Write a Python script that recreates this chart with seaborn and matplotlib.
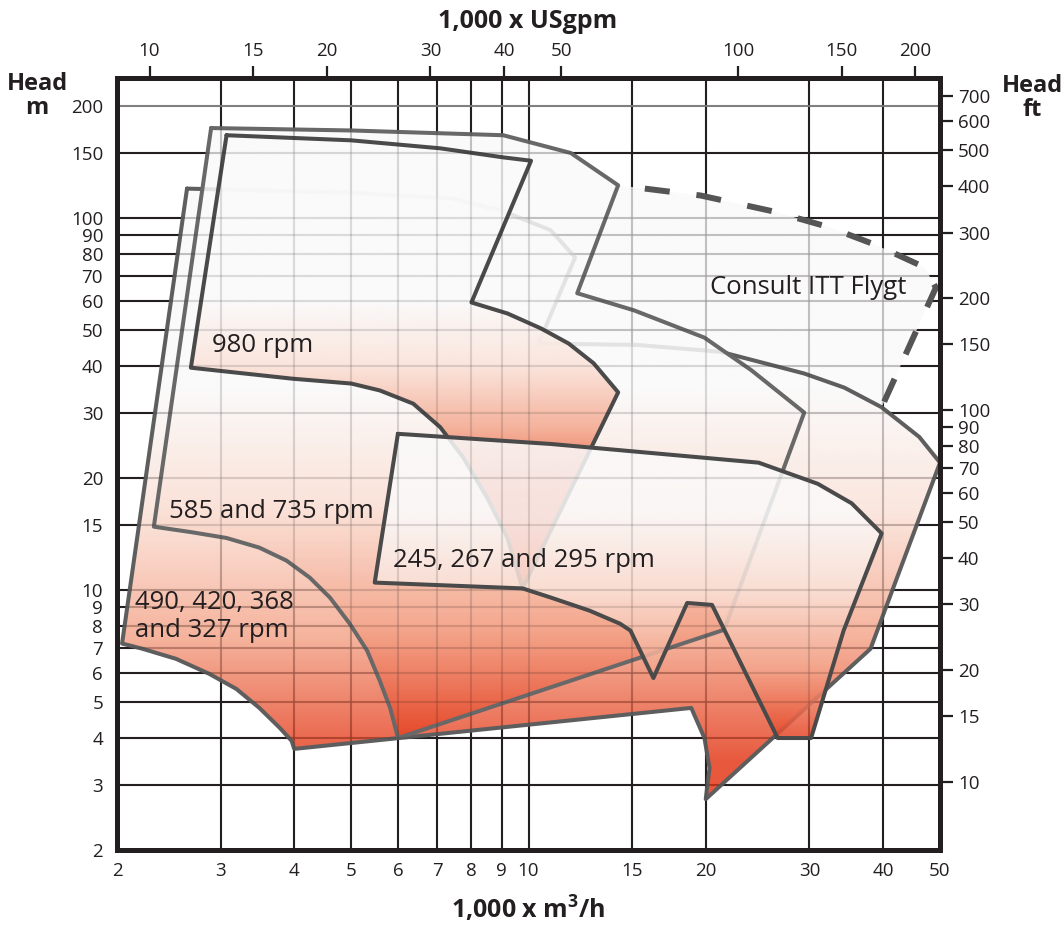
import numpy as np
import matplotlib
matplotlib.use('Agg')
import matplotlib.pyplot as plt
from matplotlib.patches import Polygon
from matplotlib.colors import LinearSegmentedColormap
from matplotlib.ticker import FixedLocator, FixedFormatter, NullLocator
import seaborn as sns

# axis ticks (1,000 x m3/h, m, 1,000 x USgpm, ft)
q_ticks = [2, 3, 4, 5, 6, 7, 8, 9, 10, 15, 20, 30, 40, 50]
h_ticks = [2, 3, 4, 5, 6, 7, 8, 9, 10, 15, 20, 30, 40, 50, 60, 70, 80, 90, 100, 150, 200]
gpm_ticks = [10, 15, 20, 30, 40, 50, 100, 150, 200]
ft_ticks = [10, 15, 20, 30, 40, 50, 60, 70, 80, 90, 100, 150, 200, 300, 400, 500, 600, 700]

# 490, 420, 368 and 327 rpm
d_q = [2.63, 5.0, 7.37, 8.96, 10.9, 12.0, 10.4, 15.3, 21.2, 29.4, 34.4, 39.8, 46.1, 50.0,
       38.1, 20.0, 20.3, 19.9, 18.9, 4.0, 3.96, 3.78, 3.49, 3.19, 2.87, 2.52, 2.21, 2.04]
d_h = [120, 117, 113, 105, 92.8, 78.4, 46.0, 45.6, 43.7, 38.2, 35.0, 31.0, 25.8, 22.0,
       6.95, 2.74, 3.32, 4.0, 4.82, 3.74, 3.93, 4.26, 4.82, 5.42, 5.95, 6.53, 6.95, 7.18]

# 585 and 735 rpm
c_q = [2.89, 5.0, 9.06, 11.8, 14.2, 12.1, 15.1, 19.9, 23.9, 29.4, 21.5, 6.0,
       5.98, 5.82, 5.59, 5.32, 4.97, 4.60, 4.25, 3.88, 3.49, 3.07, 2.68, 2.31]
c_h = [174.6, 172, 167, 149.6, 122.5, 62.8, 56.5, 47.7, 39.0, 30.0, 7.82, 4.0,
       4.10, 4.82, 5.70, 6.87, 8.12, 9.54, 10.8, 12.0, 13.0, 13.8, 14.3, 14.8]

# 980 rpm
a_q = [3.07, 5.0, 7.08, 9.06, 10.1, 8.0, 9.21, 10.5, 11.7, 12.9, 14.2, 9.77, 9.21,
       8.51, 7.75, 7.08, 6.37, 5.59, 5.0, 3.97, 2.67]
a_h = [167, 161.8, 154, 145.6, 142.6, 59.3, 55.4, 50.5, 46.0, 40.7, 34.0, 10.1, 13.8,
       17.7, 22.7, 27.4, 31.7, 34.4, 35.9, 37.0, 39.6]

# 245, 267 and 295 rpm
e_q = [6.0, 10.9, 24.6, 31.0, 35.4, 39.8, 34.3, 30.2, 26.5, 20.5, 18.6, 16.3, 14.9,
       14.3, 12.7, 10.9, 9.77, 5.48]
e_h = [26.3, 24.7, 22.0, 19.3, 17.1, 14.2, 7.78, 4.0, 4.0, 9.12, 9.23, 5.8, 7.78,
       8.12, 8.8, 9.55, 10.1, 10.47]

# Consult ITT Flygt area
f_q = [14.2, 19.6, 26.2, 32.4, 39.1, 47.1, 49.2, 39.8, 34.4, 29.4, 21.2, 19.9, 15.1, 12.1]
f_h = [122.5, 115, 104, 94.5, 84.4, 73.7, 65.0, 31.0, 35.0, 38.2, 43.7, 47.7, 56.5, 62.8]
dash_q = [14.2, 19.6, 26.2, 32.4, 39.1, 47.1, 49.2, 39.8]
dash_h = [122.5, 115, 104, 94.5, 84.4, 73.7, 65.0, 31.0]

sns.set_style('white')
plt.rcParams['font.family'] = ['Open Sans', 'DejaVu Sans']
plt.rcParams['mathtext.fontset'] = 'custom'
plt.rcParams['mathtext.rm'] = 'Open Sans'
plt.rcParams['mathtext.bf'] = 'Open Sans:bold'
ink = '#231f20'

fig = plt.figure(figsize=(10.62, 9.26), dpi=100)
ax = fig.add_axes([117 / 1062, 1 - 850 / 926, 823 / 1062, 772 / 926])
ax.set_xscale('log')
ax.set_yscale('log')
ax.set_xlim(2, 50)
ax.set_ylim(2, 238)
ax.set_autoscale_on(False)

ax.xaxis.set_major_locator(FixedLocator(q_ticks))
ax.xaxis.set_major_formatter(FixedFormatter([str(v) for v in q_ticks]))
ax.xaxis.set_minor_locator(NullLocator())
ax.yaxis.set_major_locator(FixedLocator(h_ticks))
ax.yaxis.set_major_formatter(FixedFormatter([str(v) for v in h_ticks]))
ax.yaxis.set_minor_locator(NullLocator())
ax.tick_params(axis='x', length=0, pad=9, labelsize=13.5, labelcolor=ink)
ax.tick_params(axis='y', length=0, pad=10, labelsize=13.5, labelcolor=ink)
ax.set_axisbelow(True)
ax.grid(True, color=ink, lw=1.5)
ax.get_ygridlines()[h_ticks.index(200)].set_color('#808080')
for s in ax.spines.values():
    s.set_linewidth(3.6)
    s.set_color(ink)
    s.set_zorder(5)

# vertical white -> red gradient, clipped to each area
cmap = LinearSegmentedColormap.from_list('pump', ['#fafafa', '#fbe2d8', '#f4a68c', '#e43c1c'])
lo, hi = np.log10(2), np.log10(238)
rows = lo + (np.arange(400) + 0.5) / 400 * (hi - lo)


def fill_area(q, h, top, bottom, z, alpha=0.86, plain=False):
    patch = Polygon(np.column_stack([q, h]), closed=True, transform=ax.transData,
                    fc='none', ec='none')
    ax.add_patch(patch)
    t = np.clip((np.log10(top) - rows) / (np.log10(top) - np.log10(bottom)), 0, 1)
    if plain:
        t = t * 0
    rgba = cmap(t)[:, None, :]
    rgba[..., 3] = alpha
    im = ax.imshow(rgba, extent=(0, 1, 0, 1), transform=ax.transAxes, origin='lower',
                   aspect='auto', interpolation='bilinear', zorder=z)
    im.set_clip_path(patch)


def outline(q, h, color, z):
    sns.lineplot(x=list(q) + [q[0]], y=list(h) + [h[0]], sort=False, estimator=None,
                 color=color, lw=2.9, ax=ax, zorder=z)


fill_area(f_q, f_h, 100, 10, 0.9, plain=True)
fill_area(d_q, d_h, 35, 3.4, 1.0)
outline(d_q, d_h, '#5e5e5e', 1.1)
fill_area(c_q, c_h, 35, 3.8, 1.2)
outline(c_q, c_h, '#686868', 1.3)
fill_area(a_q, a_h, 60, 18, 1.4)
outline(a_q, a_h, '#4a4a4a', 1.5)
fill_area(e_q, e_h, 16, 3.8, 1.6)

# grid showing faintly through the shaded areas
for v in q_ticks[1:-1]:
    ax.axvline(v, color=ink, lw=1.5, alpha=0.14, zorder=1.65)
for v in h_ticks[1:-1]:
    ax.axhline(v, color=ink, lw=1.5, alpha=0.14, zorder=1.65)

outline(e_q, e_h, '#4a4a4a', 1.7)
ax.plot(dash_q, dash_h, color='#555555', lw=4.3, ls=(4.2, (4.2, 4.5)), zorder=1.8)
ax.set_xlabel('')
ax.set_ylabel('')

txt = dict(fontsize=18.5, color=ink, va='center', ha='left', zorder=4)
ax.text(2.9, 45.4, '980 rpm', **txt)
ax.text(2.45, 16.3, '585 and 735 rpm', **txt)
ax.text(5.88, 12.0, '245, 267 and 295 rpm', **txt)
ax.text(2.15, 8.5, '490, 420, 368\nand 327 rpm', linespacing=1.15, **txt)
ax.text(20.3, 65, 'Consult ITT Flygt', **txt)

# secondary scales
top = ax.secondary_xaxis('top', functions=(lambda q: q * 4.4029, lambda g: g / 4.4029))
top.set_xticks(gpm_ticks, labels=[str(v) for v in gpm_ticks])
top.xaxis.set_minor_locator(NullLocator())
top.tick_params(length=9, width=1.6, pad=4, labelsize=13.5, color=ink, labelcolor=ink)
right = ax.secondary_yaxis('right', functions=(lambda m: m * 3.2808, lambda f: f / 3.2808))
right.set_yticks(ft_ticks, labels=[str(v) for v in ft_ticks])
right.yaxis.set_minor_locator(NullLocator())
right.tick_params(length=9, width=1.6, pad=4, labelsize=13.5, color=ink, labelcolor=ink)
for sec in (top, right):
    for s in sec.spines.values():
        s.set_visible(False)

bold = dict(fontsize=18, fontweight='bold', color=ink, ha='center', va='center')
fig.text(528 / 1062, 1 - 22 / 926, '1,000 x USgpm', **bold)
fig.text(528 / 1062, 1 - 910 / 926, r'1,000 x m$^{\mathbf{3}}$/h', **bold)
head = dict(bold, fontsize=17, linespacing=1.05)
fig.text(37 / 1062, 1 - 96 / 926, 'Head\nm', **head)
fig.text(1032 / 1062, 1 - 98 / 926, 'Head\nft', **head)

fig.savefig('out.png', dpi=100)
